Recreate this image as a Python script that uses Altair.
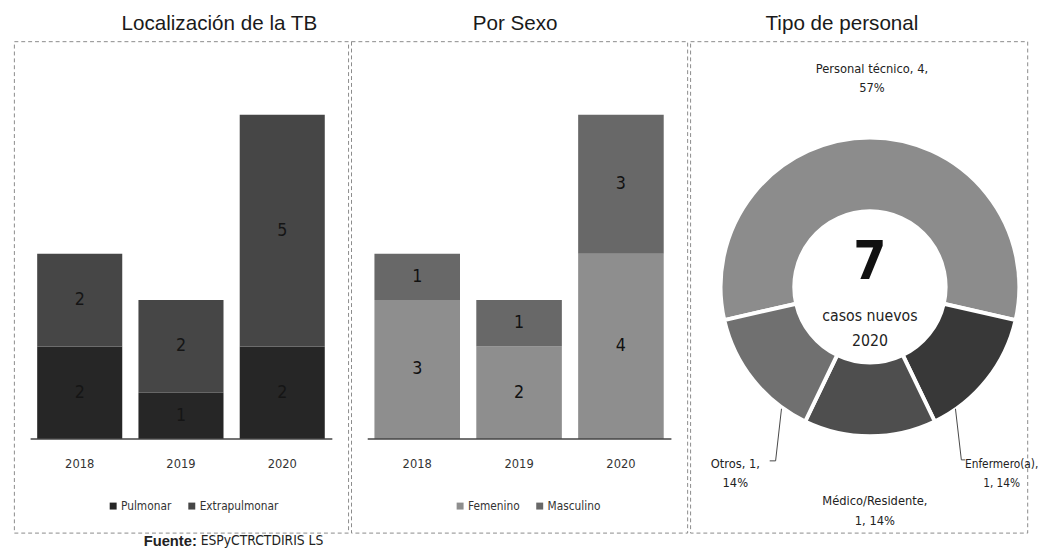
import math
import altair as alt
import pandas as pd

# ---------------- data ----------------
years = ["2018", "2019", "2020"]

loc_series = ["Pulmonar", "Extrapulmonar"]
pulmonar = [2, 1, 2]
extrapulmonar = [2, 2, 5]

sexo_series = ["Femenino", "Masculino"]
femenino = [3, 2, 4]
masculino = [1, 1, 3]

personal = ["Personal técnico", "Enfermero(a)", "Médico/Residente", "Otros"]
personal_casos = [4, 1, 1, 1]
personal_pct = ["57%", "14%", "14%", "14%"]
total_2020 = 7

fuente = ["Fuente:", "ESPyCTRCTDIRIS LS"]

# ---------------- styles ----------------
loc_colors = ["#262626", "#464646"]
sexo_colors = ["#8e8e8e", "#686868"]
donut_colors = ["#8c8c8c", "#383838", "#4e4e4e", "#707070"]

NARROW = "Liberation Sans Narrow, DejaVu Sans Condensed, sans-serif"
SANS = "Liberation Sans, Arial, sans-serif"

W1, W2, W3, H = 340, 342, 343, 500
YDOM = [-2.02, 8.59]


def stacked_df(names, value_lists):
    rows = []
    for si, (name, vals) in enumerate(zip(names, value_lists)):
        for y, v in zip(years, vals):
            rows.append({"year": y, "serie": name, "value": v, "orden": si})
    return pd.DataFrame(rows)


def title(text, dx):
    return alt.TitleParams(text, fontSize=21, font=SANS, fontWeight="normal",
                           color="#1a1a1a", anchor="middle", dx=dx, offset=7)


def bar_panel(df, names, colors, ttl, tdx, label_color, width, legend_x):
    xenc = alt.X("year:N", sort=years,
                 scale=alt.Scale(paddingInner=0.16, paddingOuter=0.23), axis=None)
    yscale = alt.Scale(domain=YDOM, nice=False, zero=False)
    base = alt.Chart(df).transform_stack(
        stack="value", groupby=["year"], as_=["y0", "y1"],
        sort=[alt.SortField("orden", order="ascending")],
    ).transform_calculate(mid="(datum.y0 + datum.y1) / 2")

    bars = base.mark_bar().encode(
        x=xenc,
        y=alt.Y("y0:Q", scale=yscale, axis=None),
        y2="y1:Q",
        color=alt.Color(
            "serie:N",
            scale=alt.Scale(domain=names, range=colors),
            legend=alt.Legend(orient="none", legendX=legend_x, legendY=467,
                              direction="horizontal", title=None,
                              symbolType="square", symbolSize=50,
                              symbolStrokeWidth=0, labelFont=NARROW,
                              labelFontSize=12, labelColor="#333",
                              columnPadding=14, labelOffset=2),
        ),
    )
    labels = base.mark_text(font=NARROW, fontSize=18, color=label_color).encode(
        x=xenc, y=alt.Y("mid:Q", scale=yscale), text="value:Q")

    rule = alt.Chart(pd.DataFrame({"v": [0]})).mark_rule(
        color="#444", strokeWidth=1.5).encode(
        y=alt.Y("v:Q", scale=yscale), x=alt.value(17), x2=alt.value(width - 16))

    yl = alt.Chart(pd.DataFrame({"year": years})).mark_text(
        font=NARROW, fontSize=13, color="#333").encode(
        x=xenc, y=alt.value(430), text="year:N")

    return alt.layer(bars, labels, rule, yl).properties(
        width=width, height=H, title=title(ttl, tdx))


p1 = bar_panel(stacked_df(loc_series, [pulmonar, extrapulmonar]), loc_series,
               loc_colors, "Localización de la TB", 39, "#151515", W1, 95)

f_df = pd.DataFrame({"t": [fuente[0]]})
f_df2 = pd.DataFrame({"t": [fuente[1]]})
f1 = alt.Chart(f_df).mark_text(font=SANS, fontSize=15, fontWeight="bold",
                               align="left", color="#222").encode(
    x=alt.value(132), y=alt.value(509), text="t:N")
f2 = alt.Chart(f_df2).mark_text(font=NARROW, fontSize=14, align="left",
                                color="#222").encode(
    x=alt.value(190), y=alt.value(509), text="t:N")
p1 = alt.layer(p1, f1, f2)

p2 = bar_panel(stacked_df(sexo_series, [femenino, masculino]), sexo_series,
               sexo_colors, "Por Sexo", -4, "#111", W2, 105)

# ---------------- donut ----------------
dd = pd.DataFrame({"tipo": personal, "casos": personal_casos,
                   "orden": list(range(len(personal)))})
start = -math.pi * personal_casos[0] / sum(personal_casos)
CX, CY = 183, 250
arc = alt.Chart(dd).mark_arc(innerRadius=77, outerRadius=152, stroke="white",
                             strokeWidth=4).encode(
    theta=alt.Theta("casos:Q", stack=True,
                    scale=alt.Scale(range=[start, start + 2 * math.pi])),
    color=alt.Color("tipo:N", scale=alt.Scale(domain=personal, range=donut_colors),
                    legend=None),
    order=alt.Order("orden:Q"),
    x=alt.value(CX), y=alt.value(CY),
)


def label(text, x, y, size=13, weight="normal", font=NARROW, color="#222"):
    return alt.Chart(pd.DataFrame({"t": [text]})).mark_text(
        font=font, fontSize=size, fontWeight=weight, color=color,
        lineBreak="\n", lineHeight=20, baseline="middle").encode(
        x=alt.value(x), y=alt.value(y), text="t:N")


lbl_tec = label(f"{personal[0]}, {personal_casos[0]},\n{personal_pct[0]}", 185, 28)
lbl_enf = label(f"{personal[1]},\n{personal_casos[1]}, {personal_pct[1]}", 317, 430,
                size=12)
lbl_med = label(f"{personal[2]},\n{personal_casos[2]}, {personal_pct[2]}", 188, 468)
lbl_otr = label(f"{personal[3]}, {personal_casos[3]},\n{personal_pct[3]}", 46, 430)
c7 = label(str(total_2020), CX, 226, size=54, weight="bold", color="#111")
c_txt = label("casos nuevos", CX, 280, size=16, color="#222")
c_yr = label(years[-1], CX, 305, size=16, color="#222")


def seg(x1, y1, x2, y2):
    return alt.Chart(pd.DataFrame({"k": [0]})).mark_rule(
        color="#444", strokeWidth=1).encode(
        x=alt.value(x1), y=alt.value(y1), x2=alt.value(x2), y2=alt.value(y2))


leaders = [seg(93, 374, 87, 427), seg(87, 427, 81, 427),
           seg(270, 374, 276, 426), seg(276, 426, 280, 426)]

p3 = alt.layer(arc, lbl_tec, lbl_enf, lbl_med, lbl_otr, c7, c_txt, c_yr,
               *leaders).properties(width=W3, height=H,
                                    title=title("Tipo de personal", -17))

chart = alt.hconcat(p1, p2, p3, spacing=1).resolve_scale(
    color="independent"
).resolve_legend(color="independent").properties(
    padding={"left": 5, "top": 0, "right": 0, "bottom": 0},
    background="white",
).configure_view(stroke="#8a8a8a", strokeDash=[4, 3], strokeWidth=1)

chart.save("out.html", embed_options={"renderer": "svg", "actions": False})
